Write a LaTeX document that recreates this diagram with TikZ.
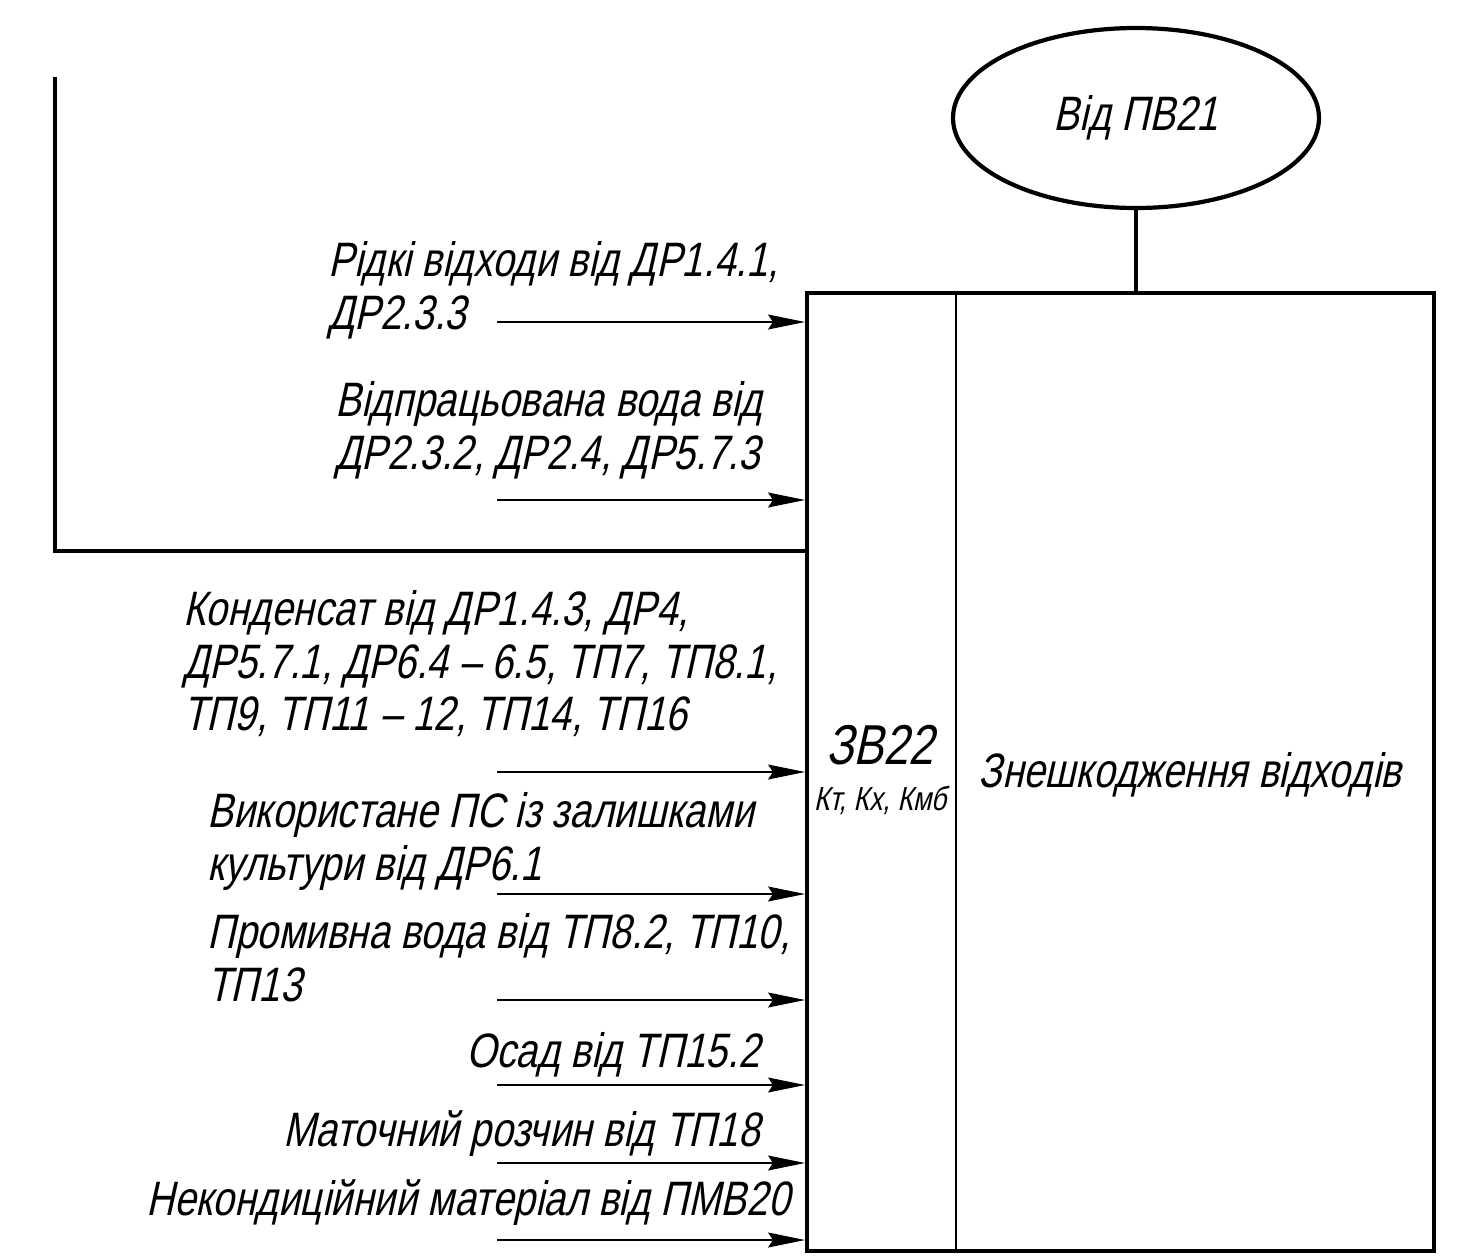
\documentclass[tikz,border=0pt]{standalone}
\usepackage{fontspec}
\newfontfamily\gost{Liberation Sans}[FakeSlant=0.22, FakeStretch=0.8]
\usetikzlibrary{arrows.meta,shapes.geometric}

\begin{document}
\begin{tikzpicture}[
    lbl/.style={font=\gost\fontsize{27.5}{30}\selectfont, inner sep=0pt, align=left},
    flow/.style={-{Stealth[length=0.74cm, width=0.3cm, inset=0.1cm]}, line width=0.8pt},
    thickline/.style={line width=2.4pt}
]
\useasboundingbox (0,0) rectangle (29.32,-25.2);

% Block
\node[draw, thickline, minimum width=12.54cm, minimum height=19.16cm,
      inner sep=0pt, anchor=north west] (box) at (16.1,-5.82) {};
\coordinate (divtop) at (19.12,-5.82);
\draw[line width=0.8pt] (divtop) -- (divtop |- box.south);
\node[font=\gost\fontsize{32}{34}\selectfont] (code) at (17.6,-14.9) {ЗВ22};
\node[font=\gost\fontsize{19}{20}\selectfont] (coef) at (17.6,-16.0) {Кт, Кх, Кмб};
\node[lbl] (title) at (23.8,-15.5) {Знешкодження відходів};

% Source
\node[ellipse, draw, thickline, minimum width=7.32cm, minimum height=3.6cm,
      inner sep=0pt, lbl] (src) at (22.72,-2.36) {Від ПВ21};
\draw[thickline] (src.south) -- (src.south |- box.north);

% Return line
\coordinate (rtop) at (1.1,-1.54);
\coordinate (rcorner) at (1.1,-11.02);
\draw[thickline] (rtop) -- (rcorner) -- (rcorner -| box.west);

% Inputs
\node[lbl, anchor=north west] (in1) at (6.56,-4.82)
    {Рідкі відходи від ДР1.4.1,\\ДР2.3.3};
\node[lbl, anchor=north west] (in2) at (6.7,-7.62)
    {Відпрацьована вода від\\ДР2.3.2, ДР2.4, ДР5.7.3};
\node[lbl, anchor=north west] (in3) at (3.66,-11.8)
    {Конденсат від ДР1.4.3, ДР4,\\ДР5.7.1, ДР6.4 – 6.5, ТП7, ТП8.1,\\ТП9, ТП11 – 12, ТП14, ТП16};
\node[lbl, anchor=north west] (in4) at (4.14,-15.84)
    {Використане ПС із залишками\\культури від ДР6.1};
\node[lbl, anchor=north west] (in5) at (4.14,-18.26)
    {Промивна вода від ТП8.2, ТП10,\\ТП13};
\node[lbl, anchor=north east] (in6) at (15.2,-20.64) {Осад від ТП15.2};
\node[lbl, anchor=north east] (in7) at (15.2,-22.2) {Маточний розчин від ТП18};
\node[lbl, anchor=north east] (in8) at (15.8,-23.58) {Некондиційний матеріал від ПМВ20};

\foreach \i/\y in {1/6.44, 2/10.0, 3/15.44, 4/17.88, 5/20.0, 6/21.7, 7/23.26, 8/24.8} {
    \coordinate (s\i) at (9.94,-\y);
    \draw[flow] (s\i) -- (s\i -| box.west);
}
\end{tikzpicture}
\end{document}
